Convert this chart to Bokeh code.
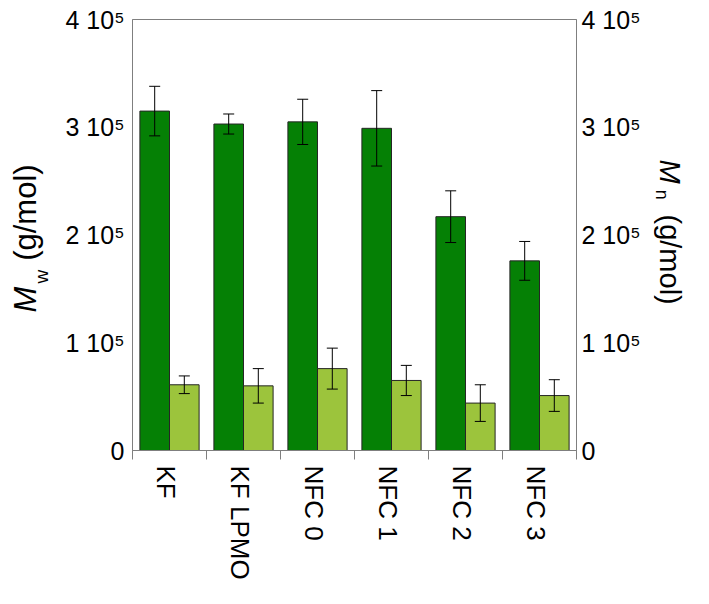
import math
from bokeh.plotting import figure
from bokeh.layouts import row
from bokeh.models import (ColumnDataSource, Range1d, LinearAxis, FixedTicker,
                          Whisker, TeeHead)
from bokeh.core.properties import value
from bokeh.transform import dodge
from bokeh.embed import file_html
from bokeh.resources import INLINE

# ---- data ----
categories = ["KF", "KF LPMO", "NFC 0", "NFC 1", "NFC 2", "NFC 3"]
mw = [3.15e5, 3.03e5, 3.05e5, 2.99e5, 2.17e5, 1.76e5]
mw_err = [0.23e5, 0.093e5, 0.21e5, 0.35e5, 0.24e5, 0.18e5]
mn = [0.61e5, 0.60e5, 0.76e5, 0.65e5, 0.44e5, 0.51e5]
mn_err = [0.082e5, 0.16e5, 0.19e5, 0.14e5, 0.17e5, 0.147e5]
ytick_values = [0, 1e5, 2e5, 3e5, 4e5]
ytick_labels = ["0", "1 10\u2075", "2 10\u2075", "3 10\u2075", "4 10\u2075"]

FONT = "Liberation Sans"
FRAME = "#7f7f7f"
DARK = "#058005"
LIGHT = "#9cc43c"

TOTAL_W, H = 693, 588
LEFT_W, RIGHT_W = 54, 40
TOP, BOTTOM = 19, 138

n = len(categories)
source = ColumnDataSource(dict(
    cat=categories,
    pos=[i + 0.5 for i in range(n)],          # category centres on a 0..n axis
    mw=mw, mw_lo=[v - e for v, e in zip(mw, mw_err)], mw_hi=[v + e for v, e in zip(mw, mw_err)],
    mn=mn, mn_lo=[v - e for v, e in zip(mn, mn_err)], mn_hi=[v + e for v, e in zip(mn, mn_err)],
))

p = figure(x_range=Range1d(0, n), y_range=Range1d(0, 4e5),
           width=TOTAL_W - LEFT_W - RIGHT_W, height=H, output_backend="svg", toolbar_location=None,
           x_axis_location=None, y_axis_location=None,
           min_border_left=132 - LEFT_W, min_border_right=77,
           min_border_top=TOP, min_border_bottom=BOTTOM)
p.grid.visible = False
p.outline_line_color = FRAME
p.outline_line_width = 1

# bars
p.vbar(x=dodge("pos", -0.2), top="mw", width=0.4, source=source,
       fill_color=DARK, line_color="#262626", line_width=1)
p.vbar(x=dodge("pos", 0.2), top="mn", width=0.4, source=source,
       fill_color=LIGHT, line_color="#262626", line_width=1)

for off, lo, hi in [(-0.2, "mw_lo", "mw_hi"), (0.2, "mn_lo", "mn_hi")]:
    w = Whisker(source=source, base=dodge("pos", off), upper=hi, lower=lo,
                line_color="black", line_width=1, level="annotation",
                upper_head=TeeHead(size=11, line_color="black", line_width=1),
                lower_head=TeeHead(size=11, line_color="black", line_width=1))
    p.add_layout(w)

# bottom axis: tick marks at category boundaries (minor), labels near the category centre
label_ticks = [round(i + 0.45, 2) for i in range(n)]
xaxis = LinearAxis(ticker=FixedTicker(ticks=label_ticks, minor_ticks=list(range(n + 1))),
                   major_label_overrides=dict(zip(label_ticks, categories)),
                   major_label_orientation="vertical",
                   major_tick_line_color=None, major_tick_in=0, major_tick_out=0,
                   minor_tick_in=0, minor_tick_out=9, minor_tick_line_color=FRAME,
                   axis_line_color=FRAME, major_label_standoff=6,
                   major_label_text_font=FONT, major_label_text_font_size="26px",
                   major_label_text_color="black")
p.add_layout(xaxis, "below")

def yaxis(standoff):
    return LinearAxis(ticker=FixedTicker(ticks=ytick_values, minor_ticks=[]),
                      major_label_overrides=dict(zip(ytick_values, ytick_labels)),
                      major_tick_line_color=None, major_tick_in=0, major_tick_out=0,
                      minor_tick_line_color=None,
                      axis_line_color=FRAME, major_label_standoff=standoff,
                      major_label_text_font=FONT, major_label_text_font_size="25px",
                      major_label_text_color="black")

p.add_layout(yaxis(8), "left")
p.add_layout(yaxis(5), "right")

# side strips carrying the axis titles  M_w (g/mol)  and  M_n (g/mol)
def side_fig(w):
    f = figure(x_range=Range1d(0, w), y_range=Range1d(0, 4e5),
               width=w, height=H, output_backend="svg", toolbar_location=None,
               x_axis_location=None, y_axis_location=None,
               min_border_left=0, min_border_right=0,
               min_border_top=TOP, min_border_bottom=BOTTOM)
    f.grid.visible = False
    f.outline_line_color = None
    return f

def title(f, x, y, text, size, angle, italic=False):
    f.text(x=[x], y=[y], text=[text], angle=angle,
           text_align="left", text_baseline="alphabetic",
           text_font=value(FONT), text_font_size=size,
           text_font_style="italic" if italic else "normal", text_color="black")

left = side_fig(LEFT_W)
title(left, 25, 1.28e5, "M", "31px", math.pi / 2, italic=True)
title(left, 41, 1.55e5, "w", "19px", math.pi / 2)
title(left, 25, 1.76e5, "(g/mol)", "31px", math.pi / 2)

right = side_fig(RIGHT_W)
title(right, 16, 2.70e5, "M", "29px", -math.pi / 2, italic=True)
title(right, 8, 2.42e5, "n", "18px", -math.pi / 2)
title(right, 16, 2.19e5, "(g/mol)", "29px", -math.pi / 2)

layout = row(left, p, right, spacing=0)
open("out.html", "w").write(file_html(layout, INLINE))
